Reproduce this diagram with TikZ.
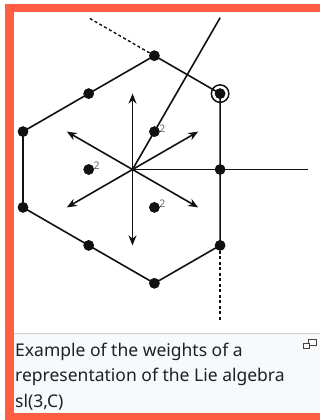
\documentclass[tikz,border=0pt]{standalone}
\usepackage{fontspec}
\setmainfont{Noto Sans}
\usetikzlibrary{arrows.meta,calc}
\definecolor{frameor}{HTML}{FF5E42}
\definecolor{capbg}{HTML}{F8F9FA}
\definecolor{sepline}{HTML}{C8CCD1}
\definecolor{txt}{HTML}{202122}
\definecolor{ink}{HTML}{111111}
\tikzset{
  edge/.style={draw=ink, line width=1.6pt},
  rootarrow/.style={draw=ink, line width=1.6pt, -{Stealth[length=10pt,width=8pt]}},
  dashline/.style={draw=ink, line width=1.4pt, dash pattern=on 3pt off 2.5pt},
  wdot/.style={circle, fill=ink, inner sep=0pt, minimum size=10.5pt},
  mult/.style={font=\fontsize{10.5}{10.5}\selectfont, text=black!60, inner sep=0pt},
  caption/.style={font=\fontsize{17.5}{17.5}\selectfont, text=txt, anchor=base west, inner sep=0pt}
}
\begin{document}
\begin{tikzpicture}[x=1pt,y=-1pt]
\useasboundingbox (0,0) rectangle (320,420);
% backgrounds
\fill[white] (0,0) rectangle (320,420);
\fill[capbg] (14,333.3) rectangle (320,413);
\draw[sepline, line width=0.8pt] (14,333.3) -- (320,333.3);
\fill[frameor] (5,4) rectangle (320,12);
\fill[frameor] (5,4) rectangle (14,420);
\fill[frameor] (5,413) rectangle (320,420);
% lattice coordinates
\def\cA{23}\def\cB{88.7}\def\cC{154.4}\def\cD{220.1}
\def\rA{55.7}\def\rB{93.6}\def\rC{131.6}\def\rD{169.5}\def\rE{207.4}\def\rF{245.4}\def\rG{283.3}
\coordinate (O) at (132.5,\rD);
\coordinate (wallend) at (220.1,17.8);
\coordinate (hend) at (308,\rD);
\coordinate (dashA) at (88.7,17.8);
\coordinate (dashB) at (\cD,321.2);
% weights
\node[wdot] (t)  at (\cC,\rA) {};
\node[wdot] (ul) at (\cB,\rB) {};
\node[wdot] (hw) at (\cD,\rB) {};
\node[wdot] (lt) at (\cA,\rC) {};
\node[wdot] (m1) at (\cC,\rC) {};
\node[wdot] (m2) at (\cB,\rD) {};
\node[wdot] (r)  at (\cD,\rD) {};
\node[wdot] (lb) at (\cA,\rE) {};
\node[wdot] (m3) at (\cC,\rE) {};
\node[wdot] (bl) at (\cB,\rF) {};
\node[wdot] (br) at (\cD,\rF) {};
\node[wdot] (b)  at (\cC,\rG) {};
\node[circle, draw=ink, line width=1.5pt, minimum size=17.5pt, inner sep=0pt] (hwc) at (hw) {};
% hexagon
\draw[edge] (t.center) -- (hw.center) -- (r.center) -- (br.center) -- (b.center) -- (bl.center) -- (lb.center) -- (lt.center) -- (ul.center) -- (t.center);
% walls
\draw[edge] (O) -- (wallend);
\draw[edge] (O) -- (hend);
\draw[dashline] (t.center) -- (dashA);
\draw[dashline] (br.center) -- (dashB);
% roots
\coordinate (aU) at (132.5,\rB);
\coordinate (aD) at (132.5,\rF);
\coordinate (aUR) at (198.2,\rC);
\coordinate (aUL) at (66.8,\rC);
\coordinate (aDR) at (198.2,\rE);
\coordinate (aDL) at (66.8,\rE);
\draw[rootarrow] (O) -- (aU);
\draw[rootarrow] (O) -- (aD);
\draw[rootarrow] (O) -- (aUR);
\draw[rootarrow] (O) -- (aUL);
\draw[rootarrow] (O) -- (aDR);
\draw[rootarrow] (O) -- (aDL);
% redraw dots on top
\foreach \n in {t,ul,hw,lt,m1,m2,r,lb,m3,bl,br,b} \fill[ink] (\n) circle (5.25pt);
% multiplicities
\node[mult] (l1) at ($(m1)+(8,-3.4)$) {2};
\node[mult] (l2) at ($(m2)+(8,-3.4)$) {2};
\node[mult] (l3) at ($(m3)+(8,-3.4)$) {2};
% caption
\node[caption] (c1) at (15,356) {Example of the weights of a};
\node[caption] (c2) at (15,381.5) {representation of the Lie algebra};
\node[caption] (c3) at (15,407) {sl(3,C)};
% enlarge icon
\draw[txt!85, line width=1pt] (308,339.5) rectangle (316,345);
\fill[capbg] (303,343.5) rectangle (309.5,348.5);
\draw[txt!85, line width=1pt] (303,343.5) rectangle (309.5,348.5);
\end{tikzpicture}
\end{document}
